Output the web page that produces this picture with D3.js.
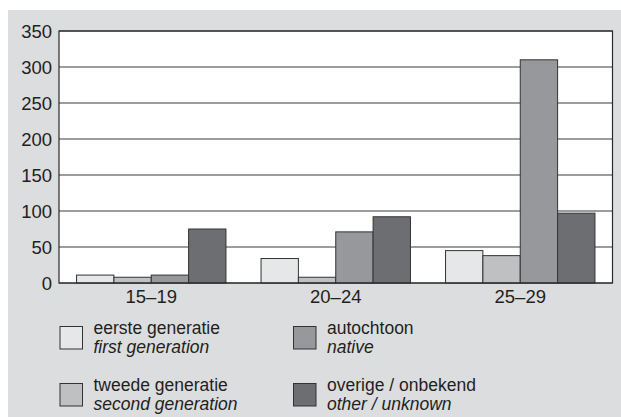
<!DOCTYPE html>
<html><head><meta charset="utf-8">
<script src="https://cdn.jsdelivr.net/npm/d3@7"></script>
<style>body{margin:0;background:#fff;}svg{display:block;font-family:"Liberation Sans",Arial,sans-serif;}</style>
</head><body><svg id="c" width="621" height="417"></svg>
<script>
const categories = ["15–19", "20–24", "25–29"];
const seriesKeys = ["first", "second", "native", "other"];
const firstGen  = [11, 34, 45];
const secondGen = [8, 8, 38];
const native    = [11, 71, 310];
const other     = [75, 92, 97];
const yTicks = [0, 50, 100, 150, 200, 250, 300, 350];
const legendNl = ["eerste generatie", "tweede generatie", "autochtoon", "overige / onbekend"];
const legendEn = ["first generation", "second generation", "native", "other / unknown"];
const colors = ["#e6e7e8", "#bfc0c2", "#97989b", "#6d6e71"];

const seriesVals = [firstGen, secondGen, native, other];
const FONT = "'Liberation Sans', Arial, sans-serif";
const TXT = "#231f20";
const svg = d3.select("#c");
svg.append("rect").attr("x", 8).attr("y", 10).attr("width", 613).attr("height", 407).attr("fill", "#dcddde");

const L = 59, R = 612.5, T = 31, B = 283;
const x0 = d3.scaleBand().domain(categories).range([L, R]).padding(0);
const x1 = d3.scaleBand().domain(seriesKeys).range([0, x0.bandwidth()]).paddingInner(0).paddingOuter(0.47);
const y = d3.scaleLinear().domain([0, 350]).range([B, T]);

svg.append("rect").attr("x", L).attr("y", T).attr("width", R - L).attr("height", B - T).attr("fill", "#fff");

// gridlines
svg.append("g").selectAll("line").data(yTicks).join("line")
  .attr("x1", L).attr("x2", R).attr("y1", d => y(d)).attr("y2", d => y(d))
  .attr("stroke", "#3a3a3a").attr("stroke-width", 1);

// y axis labels
const yAxis = d3.axisLeft(y).tickValues(yTicks).tickSize(0).tickPadding(7);
const gy = svg.append("g").attr("transform", `translate(${L},0)`).call(yAxis);
gy.select(".domain").remove();
gy.selectAll("text").attr("font-size", 18.5).attr("fill", TXT).attr("font-family", FONT).attr("dy", "0.36em");

// bars
const groups = svg.append("g").selectAll("g").data(categories).join("g")
  .attr("transform", d => `translate(${x0(d)},0)`);
groups.selectAll("rect").data((d, i) => seriesKeys.map((k, j) => ({k, j, v: seriesVals[j][i]}))).join("rect")
  .attr("x", d => x1(d.k)).attr("width", x1.bandwidth())
  .attr("y", d => y(d.v)).attr("height", d => B - y(d.v))
  .attr("fill", d => colors[d.j]).attr("stroke", "#333").attr("stroke-width", 1);

// frame
svg.append("rect").attr("x", L).attr("y", T).attr("width", R - L).attr("height", B - T)
  .attr("fill", "none").attr("stroke", "#2a2a2a").attr("stroke-width", 1.2);

// x axis labels
const xAxis = d3.axisBottom(x0).tickSize(0).tickPadding(0);
const gx = svg.append("g").attr("transform", `translate(0,${B})`).call(xAxis);
gx.select(".domain").remove();
gx.selectAll("text").attr("font-size", 18.5).attr("fill", TXT).attr("font-family", FONT)
  .attr("dy", null).attr("y", 20.3);

// legend
const legPos = [[60, 326.5], [60, 383.5], [293.5, 326.5], [293.5, 383.5]];
const lg = svg.append("g").selectAll("g").data(seriesKeys).join("g")
  .attr("transform", (d, i) => `translate(${legPos[i][0]},${legPos[i][1]})`);
lg.append("rect").attr("width", 22.5).attr("height", 22.5)
  .attr("fill", (d, i) => colors[i]).attr("stroke", "#333").attr("stroke-width", 1);
lg.append("text").attr("x", 33.5).attr("y", 7.5).attr("font-size", 17.5).attr("fill", TXT).attr("font-family", FONT)
  .text((d, i) => legendNl[i]);
lg.append("text").attr("x", 33.5).attr("y", 26.5).attr("font-size", 17.5).attr("fill", TXT).attr("font-family", FONT)
  .attr("font-style", "italic").text((d, i) => legendEn[i]);
</script></body></html>
